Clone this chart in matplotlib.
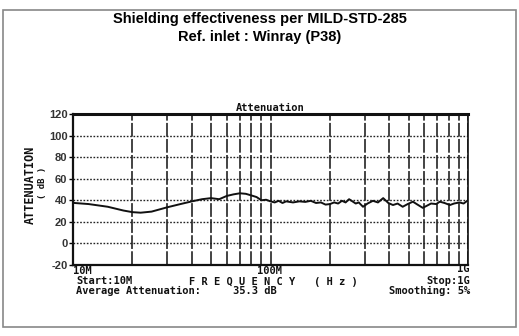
import matplotlib.pyplot as plt
import numpy as np
from matplotlib.patches import Rectangle

# measured attenuation vs frequency (MHz, dB)
freq_mhz = [10, 12, 15, 18, 20, 22, 25, 30, 35, 40, 45, 50, 55, 60, 65, 70, 75, 80, 85, 90,
            95, 100, 105, 110, 115, 120, 130, 140, 150, 160, 170, 180, 190, 200, 210, 220,
            230, 240, 250, 260, 270, 280, 294, 310, 330, 350, 372, 395, 417, 440, 467, 495,
            526, 555, 590, 620, 650, 690, 720, 760, 810, 850, 906, 950, 1000]
atten_db = [37.6, 36.5, 34.0, 30.5, 29.0, 28.5, 29.5, 33.5, 36.5, 39.0, 41.0, 42.0, 41.0, 44.0,
            45.5, 46.5, 46.0, 44.5, 43.0, 40.0, 40.5, 39.0, 38.0, 39.5, 37.5, 39.0, 38.0, 39.0,
            38.5, 39.5, 37.5, 38.0, 36.0, 36.5, 38.0, 37.0, 39.5, 38.0, 41.0, 39.0, 37.0, 38.0,
            34.0, 37.0, 39.5, 38.0, 42.0, 37.5, 35.6, 37.0, 34.0, 36.5, 38.7, 36.0, 33.0, 35.0,
            37.0, 36.5, 38.7, 37.5, 35.6, 37.0, 38.0, 37.0, 40.0]
y_ticks = [-20, 0, 20, 40, 60, 80, 100, 120]

fig = plt.figure(figsize=(5.19, 3.36), dpi=100)

# outer frame
fig.patches.append(Rectangle((3 / 519, 1 - 327 / 336), 513 / 519, 317 / 336,
                             transform=fig.transFigure, fill=False,
                             edgecolor='#888888', linewidth=1.2))

fig.text(0.5, 1 - 19 / 336, 'Shielding effectiveness per MILD-STD-285', ha='center', va='center',
         fontsize=10.5, fontweight='bold', family='Liberation Sans')
fig.text(0.5, 1 - 37 / 336, 'Ref. inlet : Winray (P38)', ha='center', va='center',
         fontsize=10.5, fontweight='bold', family='Liberation Sans')

ax = fig.add_axes([73 / 519, 1 - 265 / 336, 395 / 519, 151 / 336])
ax.plot(np.array(freq_mhz) * 1e6, atten_db, color='#111111', linewidth=1.4)

ax.set_xscale('log')
ax.set_xlim(1e7, 1e9)
ax.set_ylim(-20, 120)
ax.set_yticks(y_ticks)
ax.set_yticklabels([str(v) for v in y_ticks], family='Liberation Sans', fontsize=8,
                   fontweight='bold', color='#333333')
ax.tick_params(axis='y', length=3, width=1, pad=1)
ax.tick_params(axis='x', which='both', length=0, labelbottom=False)

# broken verticals at every decade step, dotted horizontals
ax.grid(True, which='both', axis='x', color='#111111', linestyle=(0, (9, 1.5)), linewidth=1.1)
ax.grid(True, which='major', axis='y', color='#222222', linestyle=(0, (1.2, 1.2)), linewidth=1.0)

for side, lw in [('top', 2.2), ('left', 1.6), ('bottom', 1.6), ('right', 1.2)]:
    ax.spines[side].set_linewidth(lw)
    ax.spines[side].set_color('#111111')

mono = dict(family='DejaVu Sans Mono', fontweight='bold', color='#111111')
ax.set_title('Attenuation', fontsize=7.5, pad=2, **mono)

fig.text(30 / 519, 1 - 185 / 336, 'ATTENUATION', rotation=90, ha='center', va='center',
         fontsize=8.5, **mono)
fig.text(42 / 519, 1 - 183 / 336, '( dB )', rotation=90, ha='center', va='center',
         fontsize=6.5, **mono)

fig.text(73 / 519, 1 - 271 / 336, '10M', ha='left', va='center', fontsize=7.5, **mono)
fig.text(270 / 519, 1 - 271 / 336, '100M', ha='center', va='center', fontsize=7.5, **mono)
fig.text(470 / 519, 1 - 269 / 336, '1G', ha='right', va='center', fontsize=7.5, **mono)
fig.text(76 / 519, 1 - 281 / 336, 'Start:10M', ha='left', va='center', fontsize=7.5, **mono)
fig.text(189 / 519, 1 - 282 / 336, 'F R E Q U E N C Y   ( H z )', ha='left', va='center',
         fontsize=7.5, **mono)
fig.text(76 / 519, 1 - 291 / 336, 'Average Attenuation:', ha='left', va='center',
         fontsize=7.5, **mono)
fig.text(233 / 519, 1 - 291 / 336, '35.3 dB', ha='left', va='center', fontsize=7.5, **mono)
fig.text(470 / 519, 1 - 281 / 336, 'Stop:1G', ha='right', va='center', fontsize=7.5, **mono)
fig.text(470 / 519, 1 - 291 / 336, 'Smoothing: 5%', ha='right', va='center', fontsize=7.5, **mono)

fig.savefig('out.png', dpi=100)
